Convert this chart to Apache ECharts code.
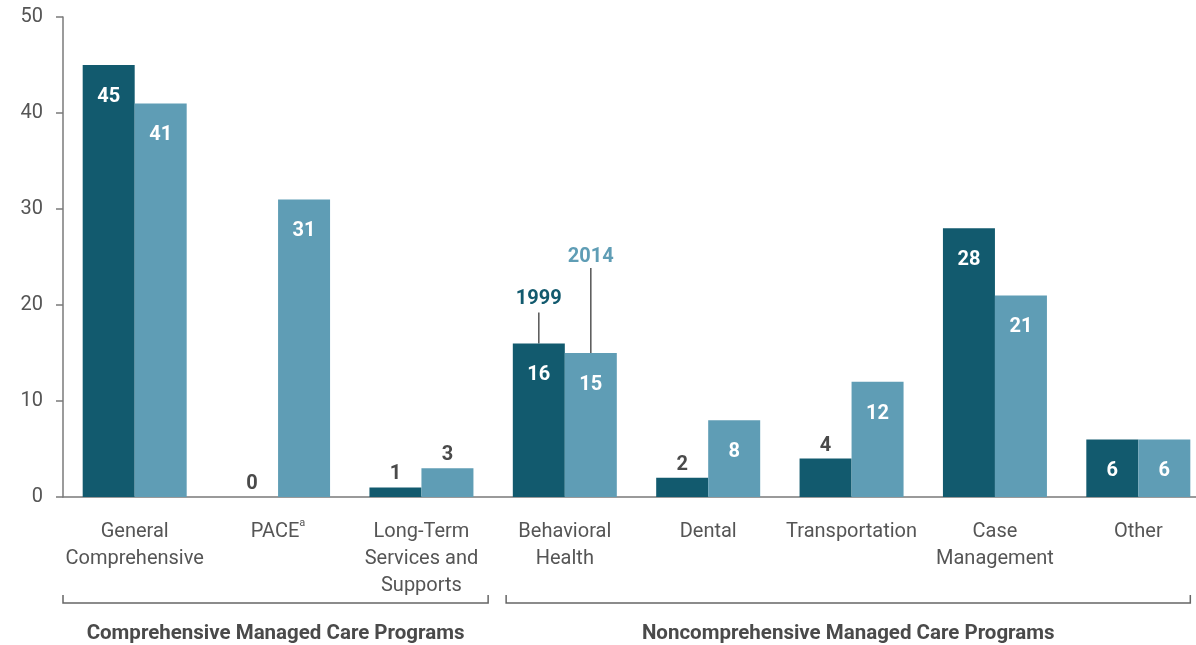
<!DOCTYPE html>
<html><head><meta charset="utf-8">
<script src="https://cdn.jsdelivr.net/npm/echarts@6/dist/echarts.min.js"></script>
<style>html,body{margin:0;padding:0;background:#fff}#c{width:1196px;height:645px}</style>
</head><body><div id="c"></div>
<script>
const categories = ['General\nComprehensive', 'PACE{sup|a}', 'Long-Term\nServices and\nSupports', 'Behavioral\nHealth', 'Dental', 'Transportation', 'Case\nManagement', 'Other'];
const values1999 = [45, 0, 1, 16, 2, 4, 28, 6];
const values2014 = [41, 31, 3, 15, 8, 12, 21, 6];
const yTicks = [0, 10, 20, 30, 40, 50];
const groupLabels = ['Comprehensive Managed Care Programs', 'Noncomprehensive Managed Care Programs'];
const seriesNames = ['1999', '2014'];

const DARK = '#125a6e', LIGHT = '#5f9db5', GRAY = '#555555', AXIS = '#7a7a7a';
const FONT = 'Roboto';

function labelFor(color) {
  return {
    show: true,
    fontFamily: FONT, fontWeight: 'bold', fontSize: 20,
    formatter: p => String(p.value),
    position: 'insideTop', distance: 22, color: '#fff'
  };
}
function makeData(vals) {
  return vals.map(v => v < 5 ? {value: v, label: {position: 'top', distance: 3, color: '#4a4a4a'}} : {value: v});
}

const chart = echarts.init(document.getElementById('c'));
chart.setOption({
  animation: false,
  grid: {left: 63, width: 1147, top: 17, height: 480, outerBoundsMode: 'none', containLabel: false},
  xAxis: {
    type: 'category', data: categories,
    axisLine: {lineStyle: {color: AXIS, width: 1.5}},
    axisTick: {show: false},
    axisLabel: {interval: 0, margin: 21, color: GRAY, fontFamily: FONT, fontSize: 20, lineHeight: 27,
      rich: {sup: {fontSize: 11, verticalAlign: 'top', color: GRAY, fontFamily: FONT, lineHeight: 18}}}
  },
  yAxis: {
    type: 'value', min: yTicks[0], max: yTicks[yTicks.length - 1], interval: 10,
    axisLine: {show: true, lineStyle: {color: AXIS, width: 1.5}},
    axisTick: {show: true, length: 7, lineStyle: {color: AXIS, width: 1.5}},
    splitLine: {show: false},
    axisLabel: {color: GRAY, fontFamily: FONT, fontSize: 20, margin: 20}
  },
  series: [
    {name: seriesNames[0], type: 'bar', data: makeData(values1999), barWidth: 52, barGap: '0%',
      itemStyle: {color: DARK}, label: labelFor(DARK)},
    {name: seriesNames[1], type: 'bar', data: makeData(values2014), barWidth: 52,
      itemStyle: {color: LIGHT}, label: labelFor(LIGHT)}
  ]
});

// annotations and brackets
const bh = 3;
const c = chart.convertToPixel({xAxisIndex: 0, yAxisIndex: 0}, [bh, values1999[bh]]);
const top1999 = c[1];
const top2014 = chart.convertToPixel({yAxisIndex: 0}, values2014[bh]);
const x1999 = c[0] - 26, x2014 = c[0] + 26;
const base = chart.convertToPixel({yAxisIndex: 0}, 0);
const x0 = chart.convertToPixel({xAxisIndex: 0}, 0);
const x1 = chart.convertToPixel({xAxisIndex: 0}, 1);
const half = (x1 - x0) / 2;
const xL = x0 - half;
const xMid = chart.convertToPixel({xAxisIndex: 0}, 2) + half;
const xLast = chart.convertToPixel({xAxisIndex: 0}, 7);
const by = base + 106;
const lineStyle = {stroke: '#666', lineWidth: 1.5};
const lEnd = xMid - 5, rStart = xMid + 13, rEnd = xLast + 52;
chart.setOption({graphic: [
  {type: 'line', shape: {x1: x1999, y1: top1999 - 31, x2: x1999, y2: top1999}, style: {stroke: '#555', lineWidth: 1.5}},
  {type: 'text', x: x1999, y: top1999 - 44, style: {text: seriesNames[0], fill: DARK, font: 'bold 20px ' + FONT, textAlign: 'center', textVerticalAlign: 'middle'}},
  {type: 'line', shape: {x1: x2014, y1: top2014 - 85, x2: x2014, y2: top2014}, style: {stroke: '#555', lineWidth: 1.5}},
  {type: 'text', x: x2014, y: top2014 - 96, style: {text: seriesNames[1], fill: LIGHT, font: 'bold 20px ' + FONT, textAlign: 'center', textVerticalAlign: 'middle'}},
  {type: 'polyline', shape: {points: [[xL, by - 8], [xL, by], [lEnd, by], [lEnd, by - 8]]}, style: Object.assign({fill: null}, lineStyle)},
  {type: 'polyline', shape: {points: [[rStart, by - 8], [rStart, by], [rEnd, by], [rEnd, by - 8]]}, style: Object.assign({fill: null}, lineStyle)},
  {type: 'text', x: (xL + lEnd) / 2, y: by + 31, style: {text: groupLabels[0], fill: '#4a4a4a', font: 'bold 20.5px ' + FONT, textAlign: 'center', textVerticalAlign: 'middle'}},
  {type: 'text', x: (rStart + rEnd) / 2, y: by + 31, style: {text: groupLabels[1], fill: '#4a4a4a', font: 'bold 20.5px ' + FONT, textAlign: 'center', textVerticalAlign: 'middle'}}
]});
</script></body></html>
